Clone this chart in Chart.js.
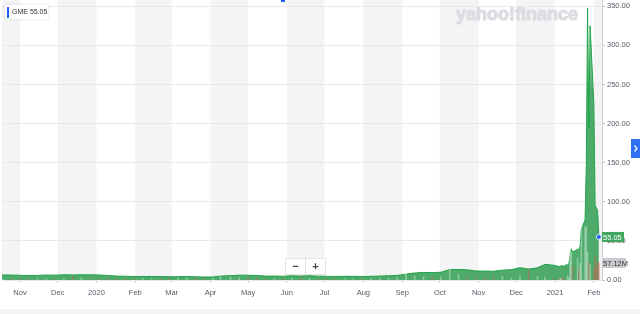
<!DOCTYPE html>
<html>
<head>
<meta charset="utf-8">
<script src="https://cdn.jsdelivr.net/npm/chart.js@4.4.1/dist/chart.umd.min.js"></script>
<style>
  body { margin: 0; background: #fff; }
  #wrap { position: relative; width: 640px; height: 314px; }
</style>
</head>
<body>
<div id="wrap"><canvas id="gmeChart" width="640" height="314"></canvas></div>
<script>
// weekly closes until end of 2020, daily in 2021
const dates = [
  "2019-10-11","2019-10-18","2019-10-25","2019-11-01","2019-11-08","2019-11-15","2019-11-22","2019-11-29",
  "2019-12-06","2019-12-13","2019-12-20","2019-12-27",
  "2020-01-03","2020-01-10","2020-01-17","2020-01-24","2020-01-31",
  "2020-02-07","2020-02-14","2020-02-21","2020-02-28",
  "2020-03-06","2020-03-13","2020-03-20","2020-03-27",
  "2020-04-03","2020-04-09","2020-04-17","2020-04-24",
  "2020-05-01","2020-05-08","2020-05-15","2020-05-22","2020-05-29",
  "2020-06-05","2020-06-12","2020-06-19","2020-06-26",
  "2020-07-02","2020-07-10","2020-07-17","2020-07-24","2020-07-31",
  "2020-08-07","2020-08-14","2020-08-21","2020-08-28",
  "2020-09-04","2020-09-11","2020-09-18","2020-09-25",
  "2020-10-02","2020-10-09","2020-10-16","2020-10-23","2020-10-30",
  "2020-11-06","2020-11-13","2020-11-20","2020-11-27",
  "2020-12-04","2020-12-11","2020-12-18","2020-12-24","2020-12-31",
  "2021-01-04","2021-01-05","2021-01-06","2021-01-07","2021-01-08",
  "2021-01-11","2021-01-12","2021-01-13","2021-01-14","2021-01-15",
  "2021-01-19","2021-01-20","2021-01-21","2021-01-22",
  "2021-01-25","2021-01-26","2021-01-27","2021-01-28","2021-01-29",
  "2021-02-01","2021-02-02","2021-02-03","2021-02-04","2021-02-05"
];
const prices = [
  6.4, 6.5, 6.4, 6.0, 5.8, 5.9, 6.4, 6.2,
  6.7, 6.5, 6.7, 6.6,
  6.4, 5.8, 5.0, 4.8, 4.5,
  4.5, 4.5, 4.4, 4.1,
  4.2, 4.5, 4.0, 3.8,
  3.8, 5.0, 5.6, 6.2,
  6.1, 5.8, 5.0, 5.0, 4.8,
  5.3, 5.0, 5.5, 4.9,
  4.7, 4.6, 4.7, 4.7, 4.5,
  4.7, 5.0, 5.4, 5.9,
  7.5, 9.0, 9.7, 9.5,
  9.9, 13.4, 13.5, 13.0, 11.5,
  11.4, 11.2, 12.6, 13.2,
  15.8, 14.0, 15.6, 20.0, 18.8,
  17.3, 17.4, 18.4, 18.1, 17.7,
  19.9, 20.0, 31.4, 39.9, 35.5,
  39.4, 39.1, 43.0, 65.0,
  76.8, 148.0, 347.5, 193.6, 325.0,
  225.0, 96.0, 92.0, 89.0, 55.05
];
// volume in millions
const volumes = [
  4.0, 3.5, 3.8, 4.2, 3.6, 3.9, 4.5, 2.5,
  5.0, 14.0, 6.0, 3.0,
  5.0, 8.0, 6.5, 5.0, 4.5,
  4.0, 3.5, 3.8, 5.5,
  6.0, 7.5, 9.0, 6.0,
  5.5, 12.0, 9.5, 8.0,
  7.0, 6.5, 5.0, 4.0, 4.5,
  6.0, 10.0, 5.5, 4.5,
  3.5, 3.0, 3.2, 3.0, 3.5,
  4.0, 6.0, 5.5, 7.5,
  30.0, 14.0, 12.0, 9.0,
  10.0, 67.0, 20.0, 9.0, 8.0,
  7.0, 9.0, 12.0, 6.0,
  15.0, 32.0, 12.0, 10.0, 8.0,
  4.8, 4.9, 6.5, 6.3, 6.0,
  14.9, 7.1, 144.5, 93.7, 46.9,
  74.7, 33.5, 56.2, 197.2,
  177.9, 178.6, 93.4, 58.8, 50.6,
  37.4, 78.2, 42.7, 62.4, 57.12
];
const tickDates = [
  "2019-11-01","2019-12-01","2020-01-01","2020-02-01","2020-03-01","2020-04-01","2020-05-01","2020-06-01",
  "2020-07-01","2020-08-01","2020-09-01","2020-10-01","2020-11-01","2020-12-01","2021-01-01","2021-02-01"
];
const tickLabels = ["Nov","Dec","2020","Feb","Mar","Apr","May","Jun","Jul","Aug","Sep","Oct","Nov","Dec","2021","Feb"];
const priceTicks = [0, 50, 100, 150, 200, 250, 300, 350];
const symbol = "GME";
const lastPrice = 55.05;
const lastVolume = "57.12M";

const origin = Date.UTC(2019, 10, 1);
const toDay = (d) => (Date.parse(d + "T00:00:00Z") - origin) / 86400000;

const pricePoints = dates.map((d, i) => ({ x: toDay(d), y: prices[i] }));
const volumePoints = dates.map((d, i) => ({ x: toDay(d), y: volumes[i] }));
const volumeColors = prices.map((p, i) =>
  i > 0 && p < prices[i - 1] ? "rgba(200,95,85,0.5)" : "rgba(255,255,255,0.35)"
);
const bandEdges = ["2019-10-01", ...tickDates, "2021-03-01"].map(toDay);

const labelFont = { family: "'Liberation Sans', Arial, sans-serif", size: 7.5 };

const yahooBits = {
  id: "yahooBits",
  beforeDraw(chart) {
    const { ctx, chartArea, scales } = chart;
    ctx.save();
    ctx.fillStyle = "#f4f4f4";
    for (let i = 0; i < bandEdges.length - 1; i += 2) {
      const x1 = Math.max(scales.x.getPixelForValue(bandEdges[i]), chartArea.left);
      const x2 = Math.min(scales.x.getPixelForValue(bandEdges[i + 1]), chartArea.right);
      if (x2 > x1) ctx.fillRect(x1, chartArea.top, x2 - x1, chartArea.bottom - chartArea.top);
    }
    // watermark, thickened with a stroke
    ctx.fillStyle = "#dcdde3";
    ctx.strokeStyle = "#dcdde3";
    ctx.lineWidth = 1.2;
    ctx.lineJoin = "round";
    ctx.font = "bold 18px 'Liberation Sans', Arial, sans-serif";
    ctx.textBaseline = "alphabetic";
    ctx.strokeText("yahoo!finance", 456, 20);
    ctx.fillText("yahoo!finance", 456, 20);
    ctx.restore();
  },
  afterDraw(chart) {
    const { ctx, scales } = chart;
    ctx.save();
    // legend chip
    ctx.shadowColor = "rgba(0,0,0,0.12)";
    ctx.shadowBlur = 3;
    ctx.fillStyle = "#fff";
    ctx.fillRect(5, 5, 43, 14);
    ctx.shadowBlur = 0;
    ctx.fillStyle = "#1e63f5";
    ctx.fillRect(7, 7, 2, 11);
    ctx.fillStyle = "#333";
    ctx.font = "7px 'Liberation Sans', Arial, sans-serif";
    ctx.textBaseline = "middle";
    ctx.fillText(symbol + " " + lastPrice.toFixed(2), 12, 12.5);
    // small marker at top
    ctx.fillStyle = "#1e63f5";
    ctx.fillRect(281, 0, 4, 2);

    // zoom buttons
    ctx.fillStyle = "#fff";
    ctx.strokeStyle = "#e3e3e3";
    ctx.fillRect(285, 258, 40, 16);
    ctx.strokeRect(285.5, 258.5, 40, 16);
    ctx.beginPath();
    ctx.moveTo(305.5, 259);
    ctx.lineTo(305.5, 274);
    ctx.stroke();
    ctx.fillStyle = "#444";
    ctx.font = "bold 11px 'Liberation Sans', Arial, sans-serif";
    ctx.textAlign = "center";
    ctx.fillText("\u2212", 295.5, 266.5);
    ctx.fillText("+", 315.5, 266.5);

    // right tab
    ctx.fillStyle = "#2f6ff3";
    ctx.fillRect(631, 139, 9, 19);
    ctx.strokeStyle = "#fff";
    ctx.lineWidth = 1.2;
    ctx.beginPath();
    ctx.moveTo(634.5, 145.5);
    ctx.lineTo(637, 148.5);
    ctx.lineTo(634.5, 151.5);
    ctx.stroke();

    // last price tag
    const py = scales.y.getPixelForValue(lastPrice);
    const px = scales.x.getPixelForValue(toDay(dates[dates.length - 1]));
    ctx.fillStyle = "#3fa55f";
    ctx.fillRect(602, py - 5, 22, 10);
    ctx.fillStyle = "#fff";
    ctx.font = "7.5px 'Liberation Sans', Arial, sans-serif";
    ctx.textAlign = "left";
    ctx.fillText(lastPrice.toFixed(2), 603, py + 0.5);
    ctx.beginPath();
    ctx.arc(px, py, 2.5, 0, Math.PI * 2);
    ctx.fillStyle = "#1e63f5";
    ctx.fill();
    ctx.strokeStyle = "#fff";
    ctx.lineWidth = 0.8;
    ctx.stroke();

    // last volume tag
    const vy = scales.vol.getPixelForValue(volumes[volumes.length - 1]);
    ctx.fillStyle = "#c9cbd0";
    ctx.fillRect(602, vy - 5, 24, 10);
    ctx.fillStyle = "#333";
    ctx.fillText(lastVolume, 603, vy + 0.5);

    // footer strip
    ctx.fillStyle = "#f4f4f4";
    ctx.fillRect(0, 309, 640, 5);
    ctx.restore();
  }
};

new Chart(document.getElementById("gmeChart"), {
  data: {
    datasets: [
      {
        type: "bar",
        data: volumePoints,
        yAxisID: "vol",
        backgroundColor: volumeColors,
        barThickness: 1,
        order: 0,
      },
      {
        type: "line",
        data: pricePoints,
        yAxisID: "y",
        borderColor: "#1fa447",
        borderWidth: 1,
        pointRadius: 0,
        tension: 0,
        fill: "origin",
        backgroundColor: (context) => {
          const area = context.chart.chartArea;
          if (!area) return "#4eab6b";
          const g = context.chart.ctx.createLinearGradient(0, area.top, 0, area.top + 90);
          g.addColorStop(0, "rgba(78,171,107,0.2)");
          g.addColorStop(1, "rgba(78,171,107,1)");
          return g;
        },
        order: 1,
      },
    ],
  },
  options: {
    responsive: false,
    animation: false,
    layout: { padding: { left: 2, top: 0, right: 0, bottom: 0 } },
    plugins: { legend: { display: false }, tooltip: { enabled: false } },
    scales: {
      x: {
        type: "linear",
        min: -14.4,
        max: 464.5,
        offset: false,
        grid: { drawOnChartArea: false, offset: false, tickLength: 3, tickColor: "#cfcfcf" },
        border: { display: false },
        afterBuildTicks: (scale) => {
          scale.ticks = tickDates.map((d) => ({ value: toDay(d) }));
        },
        ticks: {
          autoSkip: false,
          maxRotation: 0,
          padding: 5,
          color: "#555c66",
          font: labelFont,
          callback: (v, i) => tickLabels[i],
        },
        afterFit: (scale) => {
          scale.height = 34;
          scale.paddingLeft = 0;
          scale.paddingRight = 0;
        },
      },
      y: {
        position: "right",
        min: 0,
        max: 358,
        afterBuildTicks: (scale) => {
          scale.ticks = priceTicks.map((v) => ({ value: v }));
        },
        grid: { color: "#e9e9e9", tickLength: 3, tickColor: "#bdbdbd" },
        border: { display: true, color: "#cfcfcf" },
        ticks: {
          padding: 2,
          color: "#555c66",
          font: labelFont,
          callback: (v) => v.toFixed(2),
        },
        afterFit: (scale) => {
          scale.width = 38;
          scale.paddingTop = 0;
          scale.paddingBottom = 0;
        },
      },
      vol: {
        display: false,
        min: 0,
        max: 940,
      },
    },
  },
  plugins: [yahooBits],
});
</script>
</body>
</html>
